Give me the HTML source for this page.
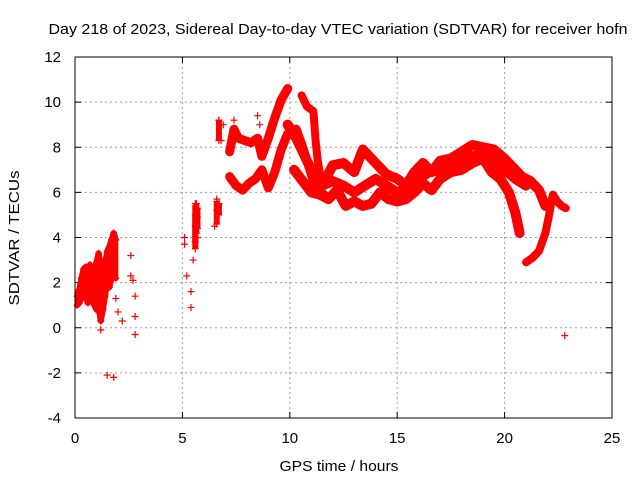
<!DOCTYPE html>
<html><head><meta charset="utf-8"><style>
body{margin:0;background:#fff;}
svg{display:block;font-family:"Liberation Sans",sans-serif;font-size:15px;}
</style></head><body>
<svg id="chart" width="640" height="480">
<text x="338" y="34" text-anchor="middle" textLength="579" lengthAdjust="spacingAndGlyphs">Day 218 of 2023, Sidereal Day-to-day VTEC variation (SDTVAR) for receiver hofn</text>
<g id="grid"></g>
<g id="ticks"></g>
<g id="series"></g>
<rect x="75" y="57" width="537" height="361" fill="none" stroke="#000" stroke-width="1"/>
<text x="339" y="471" text-anchor="middle" textLength="119" lengthAdjust="spacingAndGlyphs">GPS time / hours</text>
<text transform="translate(19,238) rotate(-90)" text-anchor="middle" textLength="135" lengthAdjust="spacingAndGlyphs">SDTVAR / TECUs</text>
</svg>
<script>
const xTicks=[0,5,10,15,20,25];
const yTicks=[-4,-2,0,2,4,6,8,10,12];
// traces (hours, TECU)
const upperT=[7.2,7.4,7.6,7.9,8.2,8.5,8.7,9.0,9.3,9.6,9.9];
const upperV=[7.8,8.8,8.4,8.3,8.2,8.4,7.6,8.4,9.3,10.1,10.6];
const loopT=[7.2,7.5,7.8,8.1,8.4,8.7,9.0,9.3,9.6,9.9,10.3,10.6,10.9,11.2,11.6];
const loopV=[6.7,6.3,6.1,6.4,6.6,7.0,6.2,6.9,7.9,8.6,8.8,8.0,7.1,6.2,5.9];
const riseT=[10.55,10.8,11.1,11.2,11.3,11.5];
const riseV=[10.3,9.8,9.6,8.3,7.4,6.3];
const highT=[11.5,12.0,12.5,13.0,13.4,13.7,14.1,14.5,15.0,15.4,15.8,16.2,16.6,17.0,17.5,18.0,18.5,19.0,19.5,20.0,20.4,20.8,21.2,21.6,21.9];
const highV=[6.3,7.2,7.3,6.9,7.9,7.6,7.2,6.8,6.6,6.3,6.9,7.3,6.9,7.4,7.5,7.8,8.1,8.0,7.9,7.5,7.1,6.7,6.5,6.1,5.4];
const midT=[9.9,10.3,10.7,11.1,11.5,12.0,12.5,13.0,13.5,14.0,14.5,15.0,15.5,16.0,16.5,17.0,17.5,18.0,18.5,19.0,19.5,20.0,20.5,21.0];
const midV=[9.0,8.4,7.6,6.8,6.3,6.5,6.3,6.0,6.3,6.6,6.3,6.0,6.2,6.6,6.9,7.0,7.1,7.3,7.6,7.7,7.4,7.0,6.6,6.3];
const lowT=[10.2,10.6,11.0,11.4,11.8,12.2,12.6,13.0,13.4,13.8,14.2,14.6,15.0,15.4,15.8,16.2,16.6,17.0,17.5,18.0,18.5,19.0,19.4,19.8,20.2,20.5,20.7];
const lowV=[7.0,6.5,6.0,5.9,5.7,6.1,5.4,5.6,5.4,5.5,6.0,5.7,5.6,5.7,6.0,6.4,6.1,6.6,6.9,7.0,7.3,7.5,6.9,6.6,6.0,5.1,4.2];
const tailT=[21.0,21.3,21.6,21.9,22.05,22.25,22.45,22.65,22.85];
const tailV=[2.9,3.1,3.4,4.2,4.9,5.9,5.6,5.4,5.3];
const earlyT=[0.1,0.2,0.3,0.4,0.5,0.6,0.7,0.8,0.9,1.0,1.1,1.2,1.3,1.4,1.5,1.6,1.7,1.8,1.9];
const earlyHiV=[1.4,1.7,2.2,2.6,2.7,2.6,2.8,2.6,2.5,2.9,3.3,2.8,2.5,2.8,3.4,3.6,3.9,4.2,3.9];
const earlyLoV=[1.0,1.1,1.3,1.6,1.4,1.1,1.5,1.2,1.0,0.8,0.9,0.3,0.8,1.4,2.0,1.8,2.2,2.4,2.2];
const scatterT=[1.2,1.2,1.5,1.8,2.0,2.2,2.6,2.6,2.7,2.8,2.8,2.8,5.1,5.1,5.2,5.4,5.4,5.5,5.6,5.6,5.7,5.7,6.5,6.6,6.6,6.7,6.8,6.9,22.8,1.9,8.5,8.6,7.4];
const scatterV=[-0.1,0.3,-2.1,-2.2,0.7,0.3,3.2,2.3,2.1,1.4,0.5,-0.3,4.0,3.7,2.3,1.6,0.9,3.0,4.5,5.5,4.9,4.0,4.5,5.2,5.7,9.2,8.3,9.0,-0.35,1.3,9.4,9.0,9.2];
const colT=[5.6,5.6,5.65,5.7,6.6,6.7,6.7];
const colLo=[3.5,3.8,4.2,4.4,4.6,5.0,8.3];
const colHi=[5.0,5.4,5.5,5.3,5.6,5.5,9.2];

const X0=75,X1=612,Y0=418,Y1=57;
const sx=v=>X0+(v-0)/25*(X1-X0);
const sy=v=>Y0-(v+4)/16*(Y0-Y1);
const NS='http://www.w3.org/2000/svg';
const grid=document.getElementById('grid'),ticks=document.getElementById('ticks'),ser=document.getElementById('series');
function mk(tag,attrs,parent){const e=document.createElementNS(NS,tag);for(const k in attrs)e.setAttribute(k,attrs[k]);parent.appendChild(e);return e;}
xTicks.forEach(t=>{const x=sx(t);
 if(t>0&&t<25){const g=mk('line',{x1:x,x2:x,y1:Y1,y2:Y0,stroke:'#a0a0a0','stroke-dasharray':'2,3'},grid);}
 mk('line',{x1:x,x2:x,y1:Y0,y2:Y0-6,stroke:'#000'},ticks);mk('line',{x1:x,x2:x,y1:Y1,y2:Y1+6,stroke:'#000'},ticks);
 const l=mk('text',{x:x,y:Y0+25,'text-anchor':'middle'},ticks);l.textContent=t;
 
 });
yTicks.forEach(t=>{const y=sy(t);
 if(t>-4&&t<12){const g=mk('line',{x1:X0,x2:X1,y1:y,y2:y,stroke:'#a0a0a0','stroke-dasharray':'2,3'},grid);}
 mk('line',{x1:X0,x2:X0+6,y1:y,y2:y,stroke:'#000'},ticks);mk('line',{x1:X1,x2:X1-6,y1:y,y2:y,stroke:'#000'},ticks);
 const l=mk('text',{x:X0-14,y:y+5,'text-anchor':'end'},ticks);l.textContent=t;
 
 });
function plus(t,v){const x=sx(t),y=sy(v);const p=mk('path',{d:`M${x-3.5},${y}h7M${x},${y-3.5}v7`,stroke:'#f00','stroke-width':1.2,fill:'none'},ser);
 
 }
function trace(T,V,w){const pts=T.map((t,i)=>sx(t)+','+sy(V[i])).join(' ');
 const pl=mk('polyline',{points:pts,fill:'none',stroke:'#f00','stroke-width':w,'stroke-linejoin':'round','stroke-linecap':'round'},ser);
 
 
 T.forEach((t,i)=>plus(t,V[i]));}
trace(upperT,upperV,9);trace(loopT,loopV,9);trace(riseT,riseV,8);
trace(highT,highV,10);trace(midT,midV,10);trace(lowT,lowV,10);trace(tailT,tailV,8);
trace(earlyT,earlyHiV,6);trace(earlyT,earlyLoV,6);
earlyT.forEach((t,i)=>{const l=mk('line',{x1:sx(t),x2:sx(t),y1:sy(earlyLoV[i]),y2:sy(earlyHiV[i]),stroke:'#f00','stroke-width':5},ser);});
colT.forEach((t,i)=>{const l=mk('line',{x1:sx(t),x2:sx(t),y1:sy(colLo[i]),y2:sy(colHi[i]),stroke:'#f00','stroke-width':6},ser);plus(t,colLo[i]);plus(t,colHi[i]);});
scatterT.forEach((t,i)=>plus(t,scatterV[i]));
</script>
</body></html>
